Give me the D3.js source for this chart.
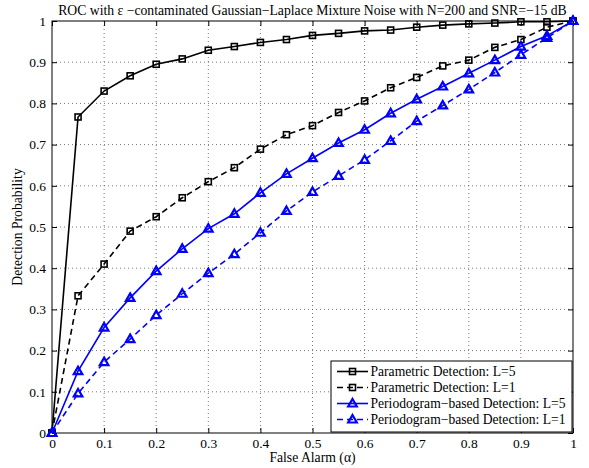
<!DOCTYPE html>
<html>
<head>
<meta charset="utf-8">
<script src="https://cdn.jsdelivr.net/npm/d3@7"></script>
<style>
  body { margin: 0; background: #fff; }
  svg text { font-family: "Liberation Serif", "Times New Roman", serif; }
</style>
</head>
<body>
<div id="chart"></div>
<script>
// data
const falseAlarm = [0, 0.05, 0.1, 0.15, 0.2, 0.25, 0.3, 0.35, 0.4, 0.45, 0.5,
                    0.55, 0.6, 0.65, 0.7, 0.75, 0.8, 0.85, 0.9, 0.95, 1];
const paramL5 = [0, 0.767, 0.830, 0.867, 0.895, 0.908, 0.929, 0.938, 0.948, 0.955, 0.965,
                 0.970, 0.976, 0.978, 0.985, 0.990, 0.993, 0.995, 0.998, 0.998, 1];
const paramL1 = [0, 0.333, 0.410, 0.490, 0.525, 0.571, 0.610, 0.644, 0.689, 0.724, 0.746,
                 0.778, 0.806, 0.838, 0.863, 0.891, 0.905, 0.936, 0.955, 0.985, 1];
const periodL5 = [0, 0.150, 0.256, 0.328, 0.393, 0.447, 0.496, 0.532, 0.583, 0.629, 0.667,
                  0.704, 0.736, 0.776, 0.810, 0.841, 0.873, 0.905, 0.938, 0.964, 1];
const periodL1 = [0, 0.096, 0.172, 0.228, 0.286, 0.338, 0.388, 0.434, 0.486, 0.539, 0.585,
                  0.624, 0.663, 0.709, 0.757, 0.795, 0.834, 0.875, 0.918, 0.959, 1];
const tickValues = [0, 0.1, 0.2, 0.3, 0.4, 0.5, 0.6, 0.7, 0.8, 0.9, 1];

const series = [
  { name: "Parametric Detection: L=5", values: paramL5, color: "#000", dash: null, marker: "square" },
  { name: "Parametric Detection: L=1", values: paramL1, color: "#000", dash: "6,4", marker: "square" },
  { name: "Periodogram\u2212based Detection: L=5", values: periodL5, color: "#0000ff", dash: null, marker: "triangle" },
  { name: "Periodogram\u2212based Detection: L=1", values: periodL1, color: "#0000ff", dash: "6,4", marker: "triangle" }
];

const WIDTH = 589, HEIGHT = 468;
const AX_LEFT = 52, AX_RIGHT = 573, AX_TOP = 21, AX_BOTTOM = 433;
const FONT = "Liberation Serif, Times New Roman, serif";

const svg = d3.select("#chart").append("svg")
  .attr("width", WIDTH).attr("height", HEIGHT);

const x = d3.scaleLinear().domain([0, 1]).range([AX_LEFT, AX_RIGHT]);
const y = d3.scaleLinear().domain([0, 1]).range([AX_BOTTOM, AX_TOP]);

// dotted grid
const grid = svg.append("g");
grid.selectAll(".gx").data(tickValues.slice(1, -1)).enter().append("line")
  .attr("x1", d => x(d)).attr("x2", d => x(d))
  .attr("y1", AX_TOP).attr("y2", AX_BOTTOM)
  .attr("stroke", "#555").attr("stroke-width", 0.8).attr("stroke-dasharray", "1,3");
grid.selectAll(".gy").data(tickValues.slice(1, -1)).enter().append("line")
  .attr("y1", d => y(d)).attr("y2", d => y(d))
  .attr("x1", AX_LEFT).attr("x2", AX_RIGHT)
  .attr("stroke", "#555").attr("stroke-width", 0.8).attr("stroke-dasharray", "1,3");

// axes with inward ticks on all four sides
const fmt = d => d === 0 || d === 1 ? String(d) : d3.format(".1f")(d);
const axes = [
  svg.append("g").attr("transform", `translate(0,${AX_BOTTOM})`)
    .call(d3.axisBottom(x).tickValues(tickValues).tickFormat(fmt).tickSizeInner(-5).tickSizeOuter(0).tickPadding(5)),
  svg.append("g").attr("transform", `translate(${AX_LEFT},0)`)
    .call(d3.axisLeft(y).tickValues(tickValues).tickFormat(fmt).tickSizeInner(-5).tickSizeOuter(0).tickPadding(6)),
  svg.append("g").attr("transform", `translate(0,${AX_TOP})`)
    .call(d3.axisTop(x).tickValues(tickValues).tickFormat("").tickSizeInner(-5).tickSizeOuter(0)),
  svg.append("g").attr("transform", `translate(${AX_RIGHT},0)`)
    .call(d3.axisRight(y).tickValues(tickValues).tickFormat("").tickSizeInner(-5).tickSizeOuter(0))
];
axes.forEach(a => a.attr("font-family", FONT).attr("font-size", 13.5));
svg.selectAll(".domain").remove();
svg.selectAll(".tick line").attr("stroke", "#000");
svg.selectAll(".tick text").attr("fill", "#000").style("font-family", FONT);

svg.append("rect")
  .attr("x", AX_LEFT).attr("y", AX_TOP)
  .attr("width", AX_RIGHT - AX_LEFT).attr("height", AX_BOTTOM - AX_TOP)
  .attr("fill", "none").attr("stroke", "#000").attr("stroke-width", 1);

// curves
const line = d3.line().x((d, i) => x(falseAlarm[i])).y(d => y(d));

function drawMarker(g, type, cx, cy, color) {
  if (type === "square") {
    g.append("rect").attr("x", cx - 3).attr("y", cy - 3).attr("width", 6).attr("height", 6)
      .attr("fill", "none").attr("stroke", color).attr("stroke-width", 1.6);
  } else {
    g.append("path")
      .attr("d", `M${cx},${cy - 4.5}L${cx + 4.3},${cy + 3}L${cx - 4.3},${cy + 3}Z`)
      .attr("fill", "none").attr("stroke", color).attr("stroke-width", 2.2)
      .attr("stroke-linejoin", "miter");
  }
}

series.forEach(s => {
  const g = svg.append("g");
  g.append("path").datum(s.values)
    .attr("d", line)
    .attr("fill", "none").attr("stroke", s.color).attr("stroke-width", 1.6)
    .attr("stroke-dasharray", s.dash);
  s.values.forEach((v, i) => drawMarker(g, s.marker, x(falseAlarm[i]), y(v), s.color));
});

// legend
const lg = svg.append("g");
lg.append("rect").attr("x", 331).attr("y", 361).attr("width", 241).attr("height", 71)
  .attr("fill", "#fff").attr("stroke", "#000").attr("stroke-width", 1);
series.forEach((s, i) => {
  const ly = 371.5 + i * 16;
  lg.append("line").attr("x1", 337).attr("x2", 368).attr("y1", ly).attr("y2", ly)
    .attr("stroke", s.color).attr("stroke-width", 1.6).attr("stroke-dasharray", s.dash);
  drawMarker(lg, s.marker, 352.5, ly, s.color);
  lg.append("text").attr("x", 370.5).attr("y", ly + 4.6)
    .attr("font-size", 13.6).text(s.name);
});

// titles
svg.append("text").attr("x", (AX_LEFT + AX_RIGHT) / 2).attr("y", 15)
  .attr("text-anchor", "middle").attr("font-size", 13.7)
  .text("ROC with \u03b5 \u2212contaminated Gaussian\u2212Laplace Mixture Noise with N=200 and SNR=\u221215 dB");
svg.append("text").attr("x", (AX_LEFT + AX_RIGHT) / 2).attr("y", 462)
  .attr("text-anchor", "middle").attr("font-size", 13.7)
  .text("False Alarm (\u03b1)");
svg.append("text").attr("transform", `translate(22,${(AX_TOP + AX_BOTTOM) / 2}) rotate(-90)`)
  .attr("text-anchor", "middle").attr("font-size", 13.7)
  .text("Detection Probability");
</script>
</body>
</html>
